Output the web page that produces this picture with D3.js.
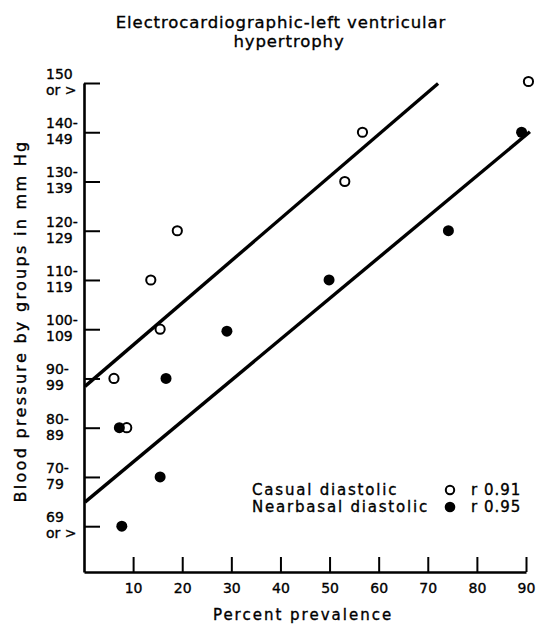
<!DOCTYPE html>
<html>
<head>
<meta charset="utf-8">
<script src="https://cdn.jsdelivr.net/npm/d3@7"></script>
<style>
  html, body { margin: 0; padding: 0; background: #fff; }
  svg { display: block; }
  text { font-family: "DejaVu Sans", sans-serif; fill: #000; stroke: #000; stroke-width: 0.35px; }
</style>
</head>
<body>
<svg id="chart" width="538" height="626"></svg>
<script>
// ---- data ----
const titleLines = ["Electrocardiographic-left ventricular", "hypertrophy"];
const xTicks = [10, 20, 30, 40, 50, 60, 70, 80, 90];
const yTicks = [60, 70, 80, 90, 100, 110, 120, 130, 140, 150];
const yTickTop = ["69", "70-", "80-", "90-", "100-", "110-", "120-", "130-", "140-", "150"];
const yTickBottom = ["or >", "79", "89", "99", "109", "119", "129", "139", "149", "or >"];

const casualX = [6.1, 8.7, 13.6, 15.5, 19.0, 53.1, 56.7, 90.5];
const casualY = [90, 80, 110, 100, 120, 130, 140, 150.3];
const nearbasalX = [7.7, 7.2, 15.5, 16.7, 29.1, 49.9, 74.2, 89.1];
const nearbasalY = [60, 80, 70, 90, 99.6, 110, 120, 140];

const casualFitX = [0.2, 72.1];
const casualFitY = [88.4, 149.9];
const nearbasalFitX = [0.2, 90.8];
const nearbasalFitY = [64.9, 140.1];

const legendLabels = ["Casual diastolic", "Nearbasal diastolic"];
const legendR = ["r 0.91", "r 0.95"];

// ---- chart ----
const svg = d3.select("#chart");
const x = d3.scaleLinear().domain([0, 90]).range([84, 526]);
const y = d3.scaleLinear().domain([50.7, 150]).range([572, 83]);

// title
svg.append("text").attr("x", 281).attr("y", 28).attr("text-anchor", "middle")
  .style("font-size", "16.5px").style("letter-spacing", "0.9px").text(titleLines[0]);
svg.append("text").attr("x", 289).attr("y", 47).attr("text-anchor", "middle")
  .style("font-size", "16.5px").style("letter-spacing", "0.9px").text(titleLines[1]);

// x axis
const gx = svg.append("g").attr("transform", `translate(0,${y(50.7)})`)
  .call(d3.axisBottom(x).tickValues(xTicks).tickSizeInner(-15).tickSizeOuter(0).tickPadding(11));
gx.select(".domain").attr("stroke", "#000").attr("stroke-width", 2.6);
gx.selectAll(".tick line").attr("stroke", "#000").attr("stroke-width", 2);
gx.selectAll(".tick text").style("font-size", "14px").style("font-family", "DejaVu Sans, sans-serif")
  .attr("fill", "#000").attr("stroke", "#000").attr("stroke-width", 0.35);

// y axis
const gy = svg.append("g").attr("transform", `translate(${x(0)},0)`)
  .call(d3.axisLeft(y).tickValues(yTicks).tickSizeInner(-16).tickSizeOuter(0).tickFormat(""));
gy.select(".domain").attr("stroke", "#000").attr("stroke-width", 2.6);
gy.selectAll(".tick line").attr("stroke", "#000").attr("stroke-width", 2);

const yl = svg.append("g");
yTicks.forEach((v, i) => {
  yl.append("text").attr("x", 46).attr("y", y(v) - 4).style("font-size", "14px").text(yTickTop[i]);
  yl.append("text").attr("x", 46).attr("y", y(v) + 12).style("font-size", "14px").text(yTickBottom[i]);
});

// axis titles
svg.append("text").attr("x", 303).attr("y", 620).attr("text-anchor", "middle")
  .style("font-size", "15px").style("letter-spacing", "2px").text("Percent prevalence");
svg.append("text").attr("transform", "translate(26,321) rotate(-90)").attr("text-anchor", "middle")
  .style("font-size", "16px").style("letter-spacing", "2.3px").text("Blood pressure by groups in mm Hg");

// regression lines
const line = d3.line().x(d => x(d[0])).y(d => y(d[1]));
svg.append("path").datum(casualFitX.map((v, i) => [v, casualFitY[i]]))
  .attr("d", line).attr("fill", "none").attr("stroke", "#000").attr("stroke-width", 3.4);
svg.append("path").datum(nearbasalFitX.map((v, i) => [v, nearbasalFitY[i]]))
  .attr("d", line).attr("fill", "none").attr("stroke", "#000").attr("stroke-width", 3.4);

// points
svg.append("g").selectAll("circle").data(casualX.map((v, i) => [v, casualY[i]])).join("circle")
  .attr("cx", d => x(d[0])).attr("cy", d => y(d[1])).attr("r", 4.6)
  .attr("fill", "#fff").attr("stroke", "#000").attr("stroke-width", 2);
svg.append("g").selectAll("circle").data(nearbasalX.map((v, i) => [v, nearbasalY[i]])).join("circle")
  .attr("cx", d => x(d[0])).attr("cy", d => y(d[1])).attr("r", 5.5)
  .attr("fill", "#000");

// legend
const lg = svg.append("g");
legendLabels.forEach((t, i) => {
  const by = 495 + i * 17;
  lg.append("text").attr("x", 252).attr("y", by).style("font-size", "15px").style("letter-spacing", "1.8px").text(t);
  lg.append("text").attr("x", 471).attr("y", by).style("font-size", "15px").style("letter-spacing", "1px").text(legendR[i]);
});
lg.append("circle").attr("cx", 450).attr("cy", 490).attr("r", 4.2).attr("fill", "#fff").attr("stroke", "#000").attr("stroke-width", 2);
lg.append("circle").attr("cx", 450).attr("cy", 507).attr("r", 5.3).attr("fill", "#000");
</script>
</body>
</html>
